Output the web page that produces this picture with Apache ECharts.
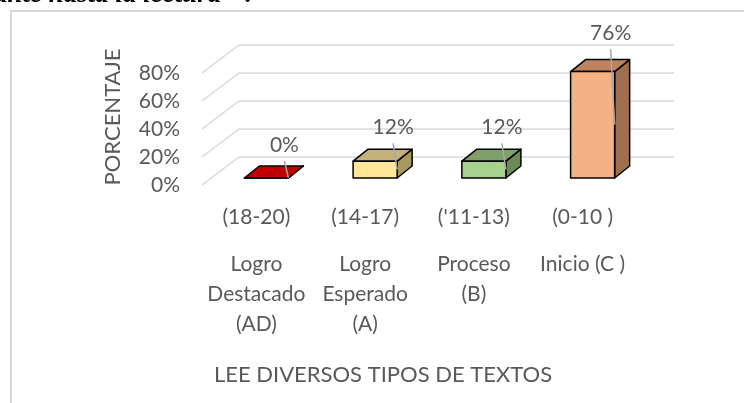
<!DOCTYPE html>
<html>
<head>
<meta charset="utf-8">
<script src="https://cdn.jsdelivr.net/npm/echarts@6/dist/echarts.min.js"></script>
<style>
  html, body { margin: 0; padding: 0; background: #fff; }
  #chart { width: 744px; height: 403px; }
</style>
</head>
<body>
<div id="chart"></div>
<script>
// datos del gráfico
const rangos = ["(18-20)", "(14-17)", "('11-13)", "(0-10 )"];
const niveles = ["Logro\nDestacado\n(AD)", "Logro\nEsperado\n(A)", "Proceso\n(B)", "Inicio (C )"];
const porcentajes = [0, 12, 12, 76];
const marcasY = [0, 20, 40, 60, 80];

// colores de cada barra (frente, tapa, lado)
const colorFrente = ["#C00000", "#FFE699", "#A9D18E", "#F4B183"];
const colorTapa = ["#C00000", "#C5B27A", "#7FA06A", "#BE8461"];
const colorLado = ["#A00000", "#A8985F", "#6A8B57", "#A0704E"];

const TEXTO = "#595959";
const FUENTE = "Lato";
// desplazamiento de la pared del fondo y profundidad de la barra
const PARED = [37, -28];
const PLANO_BARRA = [10, -7];
const FONDO_BARRA = [15, -12];

const chartDom = document.getElementById("chart");
const myChart = echarts.init(chartDom);

const option = {
  animation: false,
  title: {
    text: "LEE DIVERSOS TIPOS DE TEXTOS",
    left: 383,
    top: 364,
    textAlign: "center",
    padding: 0,
    textStyle: { color: TEXTO, fontFamily: FUENTE, fontSize: 22, fontWeight: "normal" },
  },
  graphic: [
    {
      type: "rect",
      shape: { x: 11, y: 11, width: 800, height: 500 },
      style: { fill: "none", stroke: "#D9D9D9", lineWidth: 2 },
      silent: true,
    },
    {
      type: "text",
      left: -6,
      top: -18,
      style: {
        text: "ante hasta la lectura\" ?",
        font: "italic bold 27px 'Liberation Serif'",
        fill: "#000",
      },
      silent: true,
    },
  ],
  grid: {
    left: 202,
    right: 107,
    top: 73,
    bottom: 218,
  },
  xAxis: {
    type: "category",
    data: rangos,
    axisLine: { show: false },
    axisTick: { show: false },
    axisLabel: {
      interval: 0,
      margin: 0,
      color: TEXTO,
      formatter: (val, idx) => {
        const lineas = niveles[idx].split("\n").map((t) => "{b|" + t + "}");
        return "{a|" + val + "}\n" + lineas.join("\n");
      },
      rich: {
        a: { fontFamily: FUENTE, fontSize: 21, color: TEXTO, lineHeight: 64 },
        b: { fontFamily: FUENTE, fontSize: 21, color: TEXTO, lineHeight: 30 },
      },
    },
  },
  yAxis: {
    type: "value",
    min: 0,
    max: 80,
    interval: 20,
    name: "PORCENTAJE",
    nameLocation: "middle",
    nameGap: 78,
    nameTextStyle: {
      color: TEXTO,
      fontFamily: FUENTE,
      fontSize: 22,
      padding: [0, 0, 0, 24],
    },
    axisLine: { show: false },
    axisTick: { show: false },
    splitLine: { show: false },
    axisLabel: {
      margin: 22,
      color: TEXTO,
      fontFamily: FUENTE,
      fontSize: 21,
      padding: [6, 0, 0, 0],
      formatter: (v) => v + "%",
    },
  },
  series: [
    {
      // pared del fondo: líneas de división y diagonales
      type: "custom",
      silent: true,
      z: 1,
      data: marcasY.map((v) => [0, v]),
      renderItem: (params, api) => {
        const p = api.coord([0, api.value(1)]);
        const banda = api.size([1, 0])[0];
        const izq = p[0] - banda / 2;
        const der = izq + banda * rangos.length;
        const estilo = { stroke: "#D9D9D9", lineWidth: 1.5 };
        return {
          type: "group",
          children: [
            {
              type: "line",
              shape: { x1: izq, y1: p[1], x2: izq + PARED[0], y2: p[1] + PARED[1] },
              style: estilo,
            },
            {
              type: "line",
              shape: {
                x1: izq + PARED[0], y1: p[1] + PARED[1],
                x2: der + PARED[0], y2: p[1] + PARED[1],
              },
              style: estilo,
            },
          ],
        };
      },
    },
    {
      // barras 3D con etiqueta y línea guía
      type: "custom",
      z: 2,
      data: porcentajes.map((v, i) => [i, v]),
      renderItem: (params, api) => {
        const i = api.value(0);
        const v = api.value(1);
        const base = api.coord([i, 0]);
        const cima = api.coord([i, v]);
        const banda = api.size([1, 0])[0];
        const w = banda * 0.405;
        const x0 = base[0] - w / 2 + PLANO_BARRA[0];
        const x1 = base[0] + w / 2 + PLANO_BARRA[0];
        const yb = base[1] + PLANO_BARRA[1];
        const yt = cima[1] + PLANO_BARRA[1];
        const dx = FONDO_BARRA[0];
        const dy = FONDO_BARRA[1];
        const borde = { stroke: "#000", lineWidth: 1.5, lineJoin: "round" };
        const ex = x1 - 4;
        const ey = yt + dy - 21 - (base[1] - cima[1]) * 0.05;
        return {
          type: "group",
          children: [
            {
              type: "polygon",
              shape: { points: [[x1, yt], [x1 + dx, yt + dy], [x1 + dx, yb + dy], [x1, yb]] },
              style: Object.assign({ fill: colorLado[i] }, borde),
            },
            {
              type: "polygon",
              shape: { points: [[x0, yt], [x1, yt], [x1 + dx, yt + dy], [x0 + dx, yt + dy]] },
              style: Object.assign({ fill: colorTapa[i] }, borde),
            },
            {
              type: "polygon",
              shape: { points: [[x0, yt], [x1, yt], [x1, yb], [x0, yb]] },
              style: Object.assign({ fill: colorFrente[i] }, borde),
            },
            {
              type: "line",
              shape: { x1: ex, y1: ey + 16, x2: x1, y2: (yt + yb) / 2 },
              style: { stroke: "#A6A6A6", lineWidth: 1.5 },
            },
            {
              type: "text",
              style: {
                x: ex,
                y: ey,
                text: v + "%",
                fill: TEXTO,
                font: "21px " + FUENTE,
                align: "center",
                verticalAlign: "middle",
              },
            },
          ],
        };
      },
    },
  ],
};

myChart.setOption(option);
window.onresize = () => {
  myChart.resize();
};
</script>
</body>
</html>
